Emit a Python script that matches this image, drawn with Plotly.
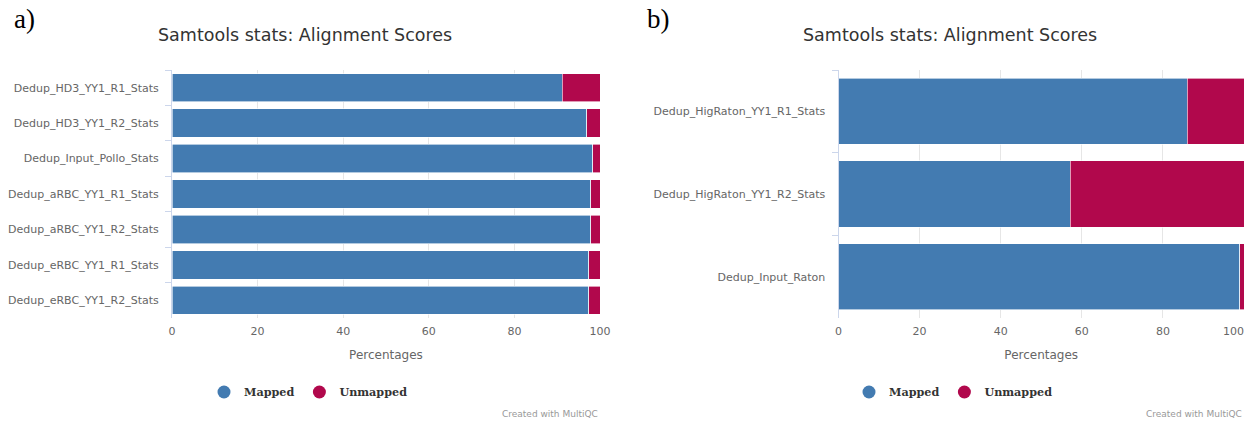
import plotly.graph_objects as go

# ---- data ----
samples_a = ["Dedup_HD3_YY1_R1_Stats", "Dedup_HD3_YY1_R2_Stats", "Dedup_Input_Pollo_Stats",
             "Dedup_aRBC_YY1_R1_Stats", "Dedup_aRBC_YY1_R2_Stats", "Dedup_eRBC_YY1_R1_Stats",
             "Dedup_eRBC_YY1_R2_Stats"]
mapped_a = [91.2, 96.9, 98.3, 97.8, 97.8, 97.4, 97.4]
unmapped_a = [8.8, 3.1, 1.7, 2.2, 2.2, 2.6, 2.6]

samples_b = ["Dedup_HigRaton_YY1_R1_Stats", "Dedup_HigRaton_YY1_R2_Stats", "Dedup_Input_Raton"]
mapped_b = [86.0, 57.1, 99.0]
unmapped_b = [14.0, 42.9, 1.0]

x_ticks = [0, 20, 40, 60, 80, 100]
series_names = ["Mapped", "Unmapped"]
series_colors = ["#437bb1", "#b1084c"]

W, H = 1250, 422
FONT = "DejaVu Sans"


def py(p):
    return 1 - p / H


fig = go.Figure()

for (xa, ya, lg), samples, vals in [
    (("x", "y", "legend"), samples_a, [mapped_a, unmapped_a]),
    (("x2", "y2", "legend2"), samples_b, [mapped_b, unmapped_b]),
]:
    for name, color, v in zip(series_names, series_colors, vals):
        fig.add_trace(go.Bar(
            y=samples, x=v, orientation="h", name=name, xaxis=xa, yaxis=ya,
            marker=dict(color=color, line=dict(color="white", width=0.6)),
            width=0.8, showlegend=False,
        ))
    for i, (name, color) in enumerate(zip(series_names, series_colors)):
        fig.add_trace(go.Scatter(
            x=[None], y=[None], mode="markers", name=name, xaxis=xa, yaxis=ya,
            marker=dict(color=color, size=13, symbol="circle"), legend=lg, showlegend=True,
            legendrank=i + 1,
        ))

tickfont = dict(family=FONT, size=11, color="#666666")
xcommon = dict(range=[0, 100], tickvals=x_ticks, showgrid=True, gridcolor="#e6e6e6",
               gridwidth=1, zeroline=False, showline=False, ticks="", automargin=False,
               ticklabeloverflow="allow", ticklabelstandoff=5, tickfont=tickfont,
               title=dict(text="Percentages", font=dict(family=FONT, size=12, color="#666666"),
                          standoff=13))
ycommon = dict(type="category", autorange="reversed", showgrid=False, zeroline=False,
               showline=True, linecolor="#ccd6eb", linewidth=1, ticks="outside",
               ticklen=6, tickcolor="#ccd6eb", tickson="boundaries", automargin=False,
               ticklabelstandoff=10, tickfont=tickfont)

legend_common = dict(orientation="h", xanchor="left", yanchor="middle",
                     font=dict(family="DejaVu Serif", size=11.2, color="#333333", weight="bold"),
                     bgcolor="rgba(0,0,0,0)", itemwidth=30, traceorder="normal")

# last tick label of the right panel is right-aligned (as in the original)
ticktext_b = [str(t) for t in x_ticks[:-1]] + [""]

fig.update_layout(
    width=W, height=H, margin=dict(l=0, r=0, t=0, b=0),
    paper_bgcolor="white", plot_bgcolor="white", barmode="stack", bargap=0.2,
    xaxis=dict(domain=[172 / W, 600 / W], anchor="y", **xcommon),
    yaxis=dict(domain=[py(318), py(70)], anchor="x", **ycommon),
    xaxis2=dict(domain=[838.5 / W, 1244 / W], anchor="y2", ticktext=ticktext_b, **xcommon),
    yaxis2=dict(domain=[py(318), py(70)], anchor="x2", **ycommon),
    legend=dict(x=204 / W, y=py(392), **legend_common),
    legend2=dict(x=849 / W, y=py(392), **legend_common),
    showlegend=True,
)

annotations = [
    dict(text="Samtools stats: Alignment Scores", x=305 / W, y=py(35), xref="paper", yref="paper",
         showarrow=False, font=dict(family=FONT, size=17.5, color="#333333"),
         xanchor="center", yanchor="middle"),
    dict(text="Samtools stats: Alignment Scores", x=950 / W, y=py(35), xref="paper", yref="paper",
         showarrow=False, font=dict(family=FONT, size=17.5, color="#333333"),
         xanchor="center", yanchor="middle"),
    dict(text=str(x_ticks[-1]), x=x_ticks[-1], y=py(331), xref="x2", yref="paper",
         showarrow=False, font=tickfont, xanchor="right", yanchor="middle", xshift=2),
    dict(text="a)", x=12 / W, y=py(19), xref="paper", yref="paper", showarrow=False,
         font=dict(family="Liberation Serif", size=27, color="#000000"),
         xanchor="left", yanchor="middle"),
    dict(text="b)", x=645 / W, y=py(19), xref="paper", yref="paper", showarrow=False,
         font=dict(family="Liberation Serif", size=27, color="#000000"),
         xanchor="left", yanchor="middle"),
    dict(text="Created with MultiQC", x=600 / W, y=py(414), xref="paper", yref="paper",
         showarrow=False, font=dict(family=FONT, size=9, color="#999999"),
         xanchor="right", yanchor="middle"),
    dict(text="Created with MultiQC", x=1244 / W, y=py(414), xref="paper", yref="paper",
         showarrow=False, font=dict(family=FONT, size=9, color="#999999"),
         xanchor="right", yanchor="middle"),
]
fig.update_layout(annotations=annotations)

fig.write_html("out.html", config={"displayModeBar": False},
               post_script="document.body.style.margin='0';")
